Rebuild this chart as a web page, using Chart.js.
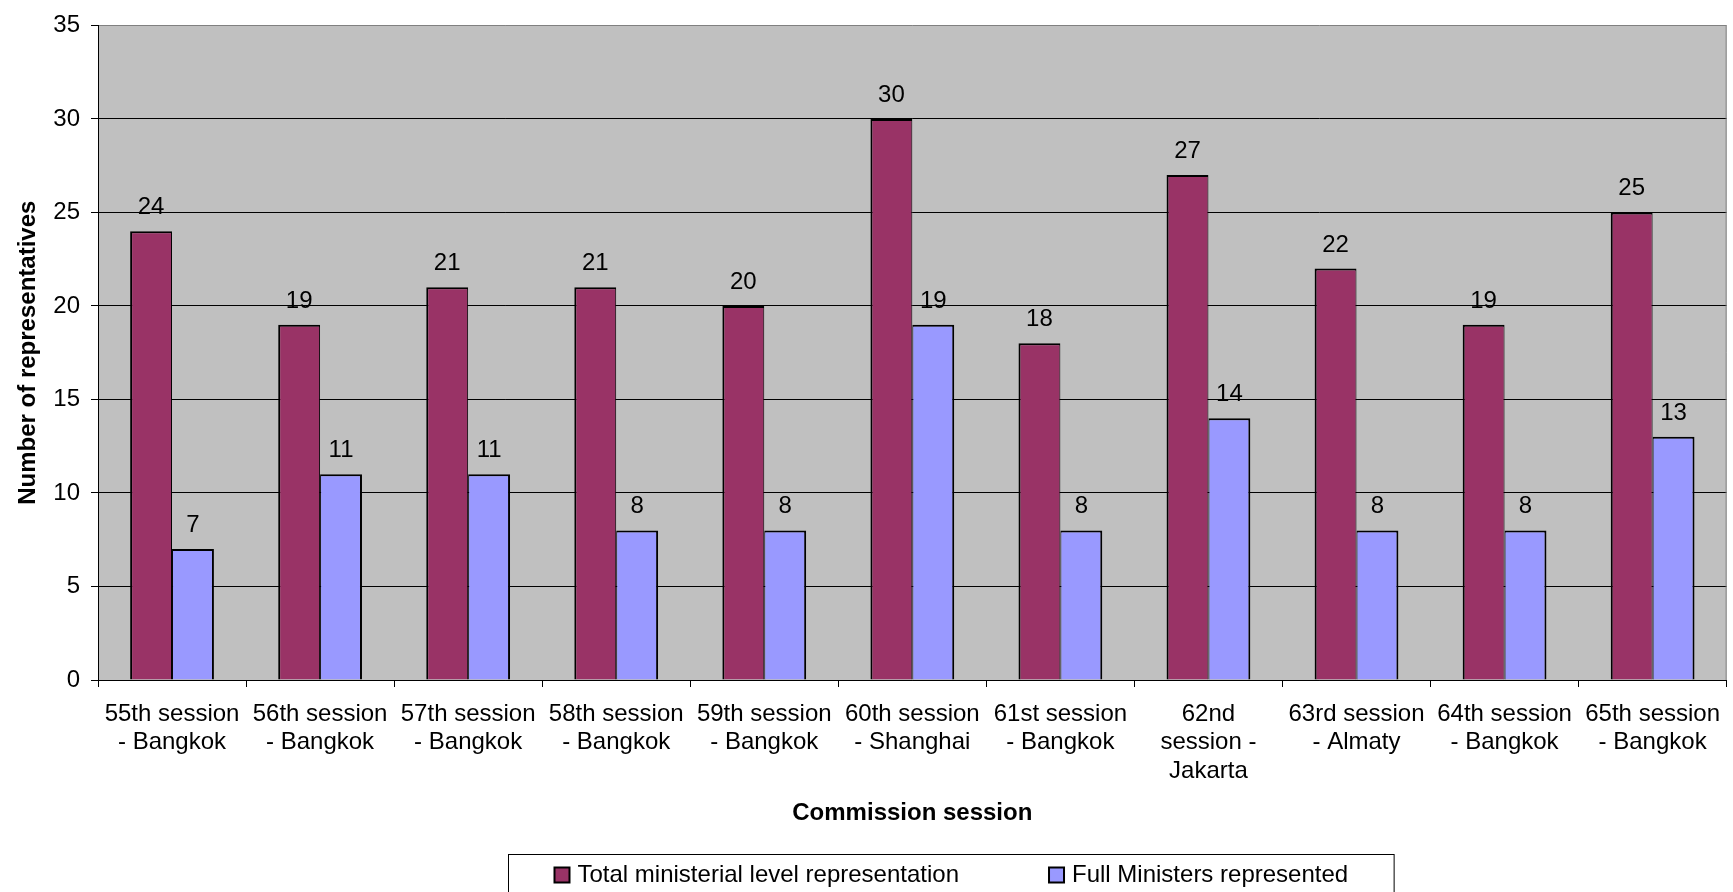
<!DOCTYPE html>
<html>
<head>
<meta charset="utf-8">
<script src="https://cdn.jsdelivr.net/npm/chart.js@4/dist/chart.umd.min.js"></script>
<style>
  html, body { margin: 0; padding: 0; background: #ffffff; }
  #wrap { width: 1733px; height: 892px; position: relative; }
</style>
</head>
<body>
<div id="wrap"><canvas id="chart"></canvas></div>
<script>
// Commission sessions (multi-line category labels)
const sessions = [
  ["55th session", "- Bangkok"],
  ["56th session", "- Bangkok"],
  ["57th session", "- Bangkok"],
  ["58th session", "- Bangkok"],
  ["59th session", "- Bangkok"],
  ["60th session", "- Shanghai"],
  ["61st session", "- Bangkok"],
  ["62nd", "session -", "Jakarta"],
  ["63rd session", "- Almaty"],
  ["64th session", "- Bangkok"],
  ["65th session", "- Bangkok"]
];

// Representation per session
const totalMinisterial = [24, 19, 21, 21, 20, 30, 18, 27, 22, 19, 25];
const fullMinisters    = [7, 11, 11, 8, 8, 19, 8, 14, 8, 8, 13];

const seriesNames = ["Total ministerial level representation", "Full Ministers represented"];
const yMin = 0, yMax = 35, yStep = 5;

const FONT = "'Liberation Sans', Arial, Helvetica, sans-serif";

// Grey plot-area background and right-hand frame line
const plotBackground = {
  id: 'plotBackground',
  beforeDraw(chart) {
    const { ctx, chartArea: a } = chart;
    ctx.save();
    ctx.fillStyle = '#C0C0C0';
    ctx.fillRect(a.left, a.top, a.right - a.left, a.bottom - a.top);
    ctx.restore();
  },
  afterDraw(chart) {
    const { ctx, chartArea: a } = chart;
    ctx.save();
    ctx.strokeStyle = '#808080';
    ctx.lineWidth = 1;
    ctx.beginPath();
    ctx.moveTo(a.right - 0.5, a.top);
    ctx.lineTo(a.right - 0.5, a.bottom);
    ctx.stroke();
    ctx.restore();
  }
};

// Value labels above each bar
const valueLabels = {
  id: 'valueLabels',
  afterDatasetsDraw(chart) {
    const { ctx } = chart;
    ctx.save();
    ctx.font = '24px ' + FONT;
    ctx.fillStyle = '#000000';
    ctx.textAlign = 'center';
    ctx.textBaseline = 'alphabetic';
    chart.data.datasets.forEach((ds, i) => {
      const meta = chart.getDatasetMeta(i);
      meta.data.forEach((bar, j) => {
        ctx.fillText(String(ds.data[j]), bar.x, bar.y - 17);
      });
    });
    ctx.restore();
  }
};

// Framed legend below the axis title
const boxedLegend = {
  id: 'boxedLegend',
  afterDraw(chart) {
    const { ctx } = chart;
    const sq = 15, gapText = 8, itemGap = 90, pad = 46;
    ctx.save();
    ctx.font = '24px ' + FONT;
    const items = chart.data.datasets.map(ds => ({
      label: ds.label, color: ds.backgroundColor, w: ctx.measureText(ds.label).width
    }));
    let total = pad * 2;
    items.forEach((it, k) => { total += sq + gapText + it.w + (k < items.length - 1 ? itemGap : 0); });
    const cx = 951;
    const left = Math.round(cx - total / 2) + 0.5;
    const top = 854.5;
    ctx.strokeStyle = '#000000';
    ctx.lineWidth = 1;
    ctx.strokeRect(left, top, total, 46);
    let x = left + pad;
    const cy = 875;
    items.forEach(it => {
      ctx.fillStyle = it.color;
      ctx.fillRect(x, cy - sq / 2, sq, sq);
      ctx.lineWidth = 2;
      ctx.strokeStyle = '#000000';
      ctx.strokeRect(x, cy - sq / 2, sq, sq);
      ctx.fillStyle = '#000000';
      ctx.textAlign = 'left';
      ctx.textBaseline = 'middle';
      ctx.fillText(it.label, x + sq + gapText, cy);
      x += sq + gapText + it.w + itemGap;
    });
    ctx.restore();
  }
};

new Chart(document.getElementById('chart'), {
  type: 'bar',
  data: {
    labels: sessions,
    datasets: [
      {
        label: seriesNames[0],
        data: totalMinisterial,
        backgroundColor: '#993366',
        borderColor: '#000000',
        borderWidth: { left: 2, top: 2, right: 1, bottom: 0 },
        borderSkipped: false
      },
      {
        label: seriesNames[1],
        data: fullMinisters,
        backgroundColor: '#9999FF',
        borderColor: '#000000',
        borderWidth: { left: 1, top: 2, right: 2, bottom: 0 },
        borderSkipped: false
      }
    ]
  },
  options: {
    responsive: true,
    maintainAspectRatio: false,
    animation: false,
    devicePixelRatio: 1,
    categoryPercentage: 0.566,
    barPercentage: 1.0,
    layout: { padding: { top: 22, right: 0, bottom: 64, left: 0 } },
    plugins: {
      legend: { display: false },
      tooltip: { enabled: false }
    },
    scales: {
      x: {
        offset: true,
        grid: {
          offset: true,
          drawOnChartArea: false,
          drawTicks: true,
          tickLength: 7,
          color: '#000000',
          lineWidth: 1
        },
        border: { display: true, color: '#000000', width: 1 },
        ticks: {
          autoSkip: false,
          maxRotation: 0,
          minRotation: 0,
          padding: 13,
          color: '#000000',
          font: { family: FONT, size: 24, lineHeight: 1.19 }
        },
        title: {
          display: true,
          text: 'Commission session',
          color: '#000000',
          font: { family: FONT, size: 24, weight: 'bold', lineHeight: 1.2 },
          padding: { top: 0, bottom: 0 }
        },
        afterFit(scale) { scale.height = 148; }
      },
      y: {
        min: yMin,
        max: yMax,
        ticks: {
          stepSize: yStep,
          padding: 11,
          color: '#000000',
          font: { family: FONT, size: 24 }
        },
        grid: {
          color: ctx => (ctx.tick && ctx.tick.value === yMax ? '#808080' : '#000000'),
          tickColor: '#000000',
          lineWidth: 1,
          tickLength: 7,
          drawTicks: true
        },
        border: { display: true, color: '#000000', width: 1 },
        title: {
          display: true,
          text: 'Number of representatives',
          color: '#000000',
          font: { family: FONT, size: 24, weight: 'bold', lineHeight: 1.2 },
          padding: { top: 14, bottom: 0 }
        },
        afterFit(scale) { scale.width = 98; }
      }
    }
  },
  plugins: [plotBackground, valueLabels, boxedLegend]
});
</script>
</body>
</html>
